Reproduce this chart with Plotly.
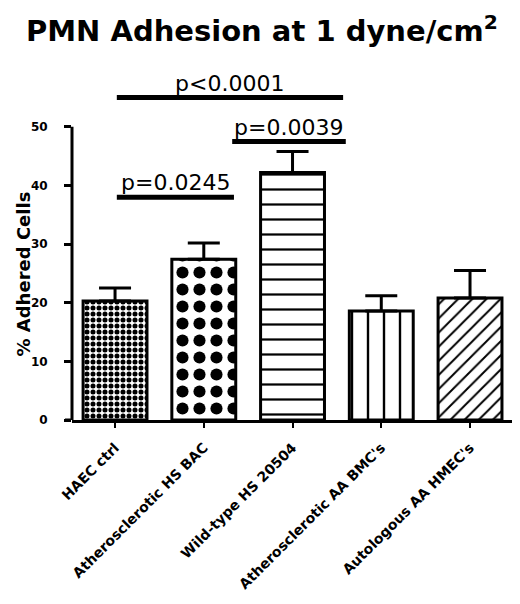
import plotly.graph_objects as go

categories = ["HAEC ctrl", "Atherosclerotic HS BAC", "Wild-type HS 20504",
              "Atherosclerotic AA BMC's", "Autologous AA HMEC's"]
adhered = [20.3, 27.4, 42.2, 18.6, 20.8]
sem = [2.2, 2.8, 3.6, 2.6, 4.7]
patterns = [".", ".", "-", "|", "/"]

# significance brackets: (x0, x1, y, label)
brackets = [
    (0.02, 1.34, 38.0, "p=0.0245"),
    (1.32, 2.60, 47.5, "p=0.0039"),
    (0.02, 2.57, 55.0, "p<0.0001"),
]

bold = dict(family="DejaVu Sans", color="black", weight="bold")

# the page body has an 8px margin, so the figure is drawn 8px in from the top-left
W, H = 504, 588
L, T, R, B = 64, 69, 0, 176
plot_w, plot_h = W - L - R, H - T - B

fig = go.Figure()
fig.add_trace(go.Bar(
    x=categories, y=adhered, width=0.72,
    marker=dict(color="white", line=dict(color="black", width=3),
                pattern=dict(shape=patterns, fgcolor="black", bgcolor="white",
                             fgopacity=1, size=[6, 17, 15, 16, 10],
                             solidity=[0.55, 0.4, 0.15, 0.15, 0.2])),
    error_y=dict(type="data", array=sem, arrayminus=[0] * 5, symmetric=False,
                 color="black", thickness=3, width=16),
))

for x0, x1, y, label in brackets:
    fig.add_shape(type="line", xref="x", yref="y", x0=x0, x1=x1, y0=y, y1=y,
                  line=dict(color="black", width=5))
    fig.add_annotation(x=(x0 + x1) / 2, y=y, xref="x", yref="y", text=label,
                       showarrow=False, yanchor="bottom", yshift=0,
                       font=dict(size=22, family="DejaVu Sans", color="black"))

# y axis line only up to 50, x axis stub left of it
fig.add_shape(type="line", xref="paper", yref="y", x0=0, x1=0, y0=0, y1=50,
              line=dict(color="black", width=3))
fig.add_shape(type="line", xref="paper", yref="y", x0=-7 / plot_w, x1=0, y0=0, y1=0,
              line=dict(color="black", width=3))

# y axis title
fig.add_annotation(x=(2 - L) / plot_w, y=(412 - 266) / plot_h, xref="paper", yref="paper",
                   text="% Adhered Cells", showarrow=False, textangle=-90,
                   font=dict(size=18, **bold))

# chart title
fig.add_annotation(x=(254 - L) / plot_w, y=1 + T / plot_h, xref="paper", yref="paper",
                   text="PMN Adhesion at 1 dyne/cm<sup>2</sup>", showarrow=False,
                   xanchor="center", yanchor="top", font=dict(size=29, **bold))

fig.update_layout(
    width=W, height=H,
    margin=dict(l=L, r=R, t=T, b=B),
    plot_bgcolor="white", paper_bgcolor="white",
    showlegend=False,
    xaxis=dict(range=[-0.485, 4.473], showline=True, linecolor="black", linewidth=3,
               ticks="outside", ticklen=5, tickwidth=2, tickcolor="black",
               tickangle=-45, tickfont=dict(size=14, **bold), showgrid=False,
               ticklabelstandoff=6, automargin=False),
    yaxis=dict(range=[0, 58.5], tickvals=[0, 10, 20, 30, 40, 50], showline=False,
               ticks="outside", ticklen=7, tickwidth=3, tickcolor="black",
               ticklabelstandoff=14,
               tickfont=dict(size=12, **bold), showgrid=False, zeroline=False,
               automargin=False),
)

fig.write_html("out.html")
